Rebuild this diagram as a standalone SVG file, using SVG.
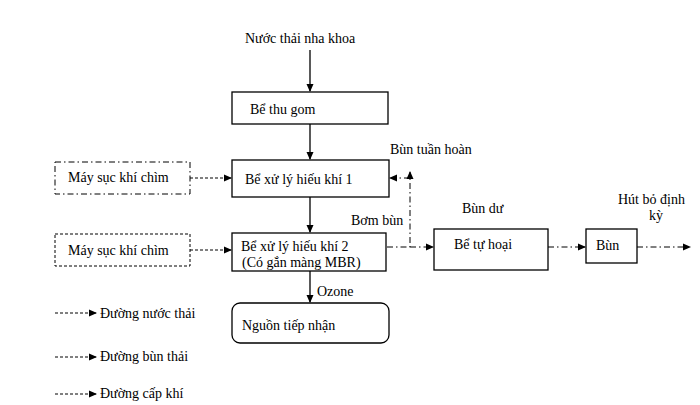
<svg xmlns="http://www.w3.org/2000/svg" width="700" height="405" viewBox="0 0 700 405">
<defs>
<marker id="a" markerWidth="8" markerHeight="8" refX="7" refY="4" orient="auto" markerUnits="userSpaceOnUse"><path d="M0,0.5 L8,4 L0,7.5Z" fill="#000"/></marker>
<style>
text{font-family:"Liberation Serif",serif;font-size:14px;fill:#000}
.b{fill:#fff;stroke:#000;stroke-width:1.3}
.s{stroke:#000;stroke-width:1.3;fill:none}
.d{stroke:#000;stroke-width:1;fill:none;stroke-dasharray:3,2}
.dd{stroke:#000;stroke-width:1;fill:none;stroke-dasharray:6,3,1.5,3}
</style>
</defs>
<text x="245" y="43">Nước thải nha khoa</text>
<g id="n1"><rect class="b" x="232" y="92" width="156" height="32"/><text x="250" y="114">Bể thu gom</text></g>
<g id="n2"><rect class="b" x="232" y="160" width="157" height="37"/><text x="245" y="184">Bể xử lý hiếu khí 1</text></g>
<g id="n3"><rect class="b" x="232" y="233" width="154" height="38"/><text x="241" y="251">Bể xử lý hiếu khí 2</text><text x="242" y="267">(Có gắn màng MBR)</text></g>
<g id="n4"><rect class="b" x="232" y="303" width="157" height="40" rx="8"/><text x="242" y="330">Nguồn tiếp nhận</text></g>
<g id="m1"><rect class="dd" x="55" y="162" width="135" height="32"/><text x="68" y="182">Máy sục khí chìm</text></g>
<g id="m2"><rect class="d" x="55" y="234" width="135" height="32"/><text x="68" y="255">Máy sục khí chìm</text></g>
<g id="n5"><rect class="b" x="434" y="229" width="114" height="41"/><text x="454" y="249">Bể tự hoại</text></g>
<g id="n6"><rect class="b" x="586" y="229" width="51" height="34"/><text x="596" y="250">Bùn</text></g>
<g id="edges">
<path class="s" d="M310,50 V91" marker-end="url(#a)"/>
<path class="s" d="M310,124 V159" marker-end="url(#a)"/>
<path class="s" d="M310,197 V232" marker-end="url(#a)"/>
<path class="s" d="M310,271 V302" marker-end="url(#a)"/>
<path class="d" d="M190,178 H231" marker-end="url(#a)"/>
<path class="d" d="M190,250 H231" marker-end="url(#a)"/>
<path class="dd" d="M387,247 H410 V172" marker-end="url(#a)"/>
<path class="dd" d="M410,178 H390" marker-end="url(#a)"/>
<path class="dd" d="M410,247 H433" marker-end="url(#a)"/>
<path class="dd" d="M548,247 H585" marker-end="url(#a)"/>
<path class="dd" d="M637,247 H690" marker-end="url(#a)"/>
<path class="d" d="M55,313 H96" marker-end="url(#a)"/>
<path class="d" d="M55,357 H96" marker-end="url(#a)"/>
<path class="d" d="M55,394 H96" marker-end="url(#a)"/>
</g>
<text x="390" y="154">Bùn tuần hoàn</text>
<text x="351" y="225">Bơm bùn</text>
<text x="462" y="213">Bùn dư</text>
<text x="618" y="204">Hút bỏ định</text>
<text x="649" y="220">kỳ</text>
<text x="317" y="296">Ozone</text>
<text x="100" y="318">Đường nước thải</text>
<text x="100" y="361">Đường bùn thải</text>
<text x="100" y="398">Đường cấp khí</text>
</svg>
